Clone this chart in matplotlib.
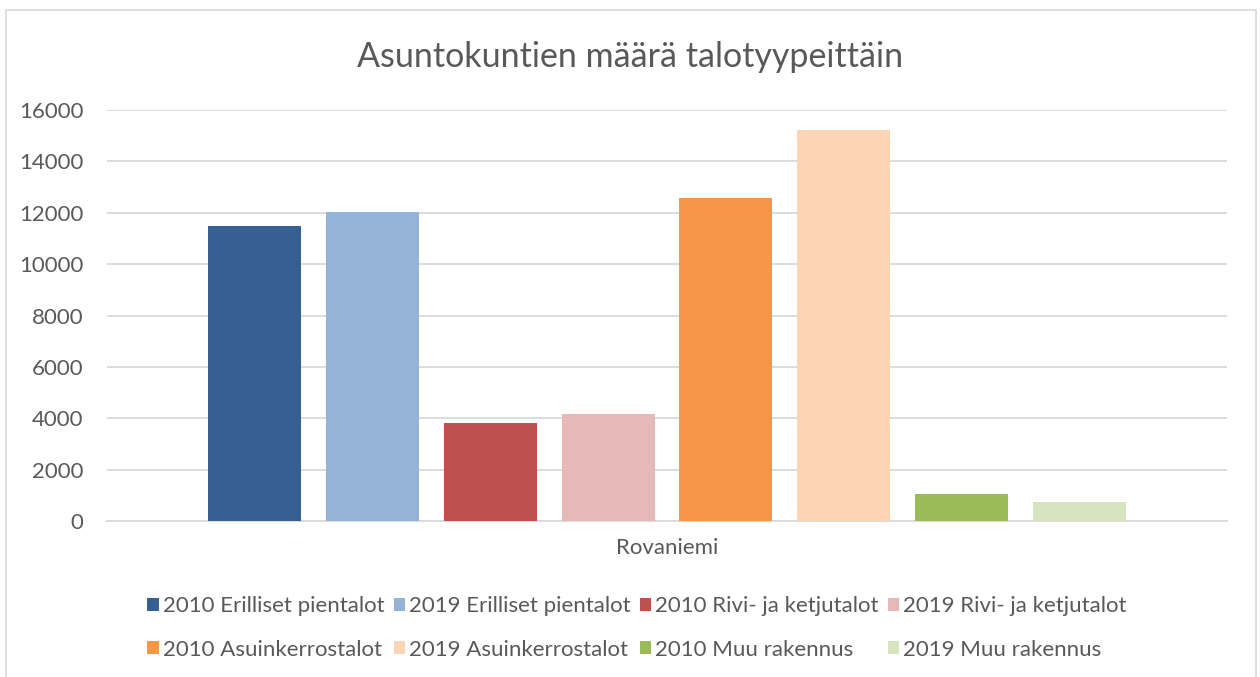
import matplotlib
matplotlib.use("Agg")
import matplotlib.pyplot as plt
from matplotlib.patches import Rectangle
import numpy as np

plt.rcParams['font.family'] = ['Lato', 'DejaVu Sans']

category = "Rovaniemi"
series = ["2010 Erilliset pientalot", "2019 Erilliset pientalot",
          "2010 Rivi- ja ketjutalot", "2019 Rivi- ja ketjutalot",
          "2010 Asuinkerrostalot", "2019 Asuinkerrostalot",
          "2010 Muu rakennus", "2019 Muu rakennus"]
values = [11490, 12020, 3810, 4170, 12580, 15220, 1045, 735]
colors = ["#376092", "#95B3D7", "#C0504D", "#E6B9B8",
          "#F79646", "#FCD5B5", "#9BBB59", "#D7E4BD"]
yticks = [0, 2000, 4000, 6000, 8000, 10000, 12000, 14000, 16000]
title = "Asuntokuntien määrä talotyypeittäin"

txt = "#595959"
fig = plt.figure(figsize=(12.6, 6.77), dpi=100)
W, H = 1260, 677
ax = fig.add_axes([107 / W, 1 - 521 / H, (1227 - 107) / W, (521 - 110) / H])

n = len(values)
offsets = np.arange(n) - (n - 1) / 2
handles = []
for off, v, c, s in zip(offsets, values, colors, series):
    b = ax.bar(off, v, width=93 / 118, color=c, label=s, zorder=3)
    handles.append(b)

ax.set_xlim(-4.75, 4.75)
ax.set_ylim(0, 16000)
ax.set_yticks(yticks)
ax.set_yticklabels([str(t) for t in yticks], color=txt, fontsize=16)
ax.tick_params(axis='y', length=0, pad=17)
ax.set_xticks([0])
ax.set_xticklabels([category], color=txt, fontsize=16)
ax.tick_params(axis='x', length=0, pad=12)
ax.grid(axis='y', color="#D9D9D9", linewidth=1.3, zorder=0)
for sp in ['top', 'right', 'left']:
    ax.spines[sp].set_visible(False)
ax.spines['bottom'].set_color("#D9D9D9")
ax.spines['bottom'].set_linewidth(1.3)

fig.text(630 / W, 1 - 57 / H, title, ha='center', va='center',
         fontsize=24.5, color=txt)

# legend fills row by row (4 per row)
ncol = 4
nrow = 2
order = [r * ncol + c for c in range(ncol) for r in range(nrow)]
leg = fig.legend(handles=[handles[i] for i in order],
                 labels=[series[i] for i in order], ncol=ncol,
                 loc='center', bbox_to_anchor=(637 / W, 1 - 628 / H),
                 frameon=False, fontsize=16, handlelength=0.5,
                 handleheight=0.5, handletextpad=0.2, columnspacing=0.4,
                 labelspacing=1.05, borderpad=0)
for t in leg.get_texts():
    t.set_color(txt)

fig.patches.append(Rectangle((6 / W, -0.05), (1256 - 6) / W, 1 - 10 / H + 0.05,
                             transform=fig.transFigure, fill=False,
                             edgecolor="#D9D9D9", linewidth=1.2))

fig.savefig("out.png", dpi=100, facecolor="white")
